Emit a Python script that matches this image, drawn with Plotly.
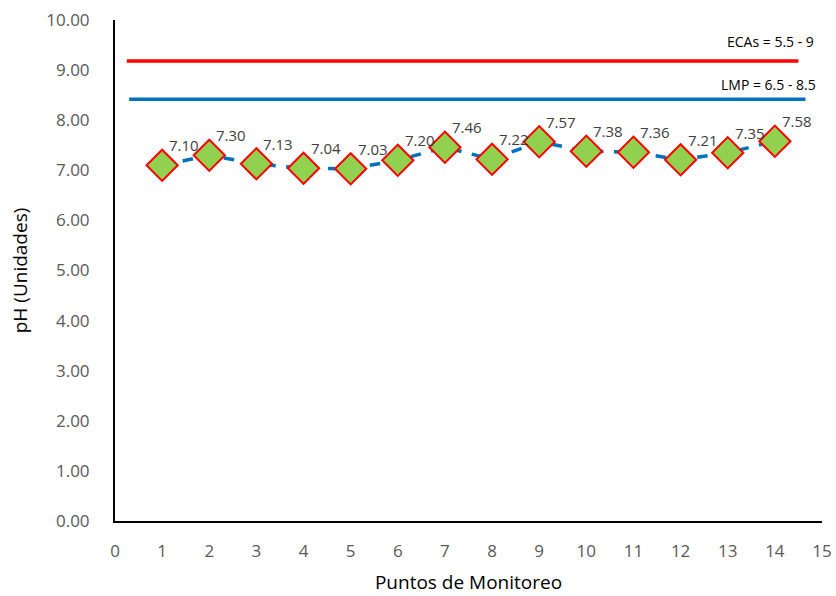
import plotly.graph_objects as go

puntos = list(range(1, 15))
ph = [7.10, 7.30, 7.13, 7.04, 7.03, 7.20, 7.46, 7.22, 7.57, 7.38, 7.36, 7.21, 7.35, 7.58]
eca_x = [0.25, 14.5]
eca_y = [9.18, 9.18]
lmp_x = [0.3, 14.65]
lmp_y = [8.42, 8.42]
x_ticks = list(range(0, 16))
y_ticks = [0, 1, 2, 3, 4, 5, 6, 7, 8, 9, 10]

fig = go.Figure()
fig.add_trace(go.Scatter(x=eca_x, y=eca_y, mode="lines",
                         line=dict(color="#FF0000", width=3.5), hoverinfo="skip"))
fig.add_trace(go.Scatter(x=lmp_x, y=lmp_y, mode="lines",
                         line=dict(color="#0070C0", width=3.5), hoverinfo="skip"))
fig.add_trace(go.Scatter(x=puntos, y=ph, mode="lines+markers",
                         line=dict(color="#0070C0", width=3.5, dash="dash"),
                         marker=dict(symbol="diamond", size=24, color="#92D050",
                                     line=dict(color="#FF0000", width=2))))

for xv, yv in zip(puntos, ph):
    fig.add_annotation(x=xv, y=yv, xref="x", yref="y", text=f"{yv:.2f}",
                       showarrow=False, xshift=22, yshift=20,
                       font=dict(size=15, color="#404040", family="Open Sans"))

fig.add_annotation(x=15, y=9.58, xref="x", yref="y", text="ECAs = 5.5 - 9",
                   showarrow=False, xanchor="right", xshift=-6,
                   font=dict(size=14, color="#000000", family="Open Sans"))
fig.add_annotation(x=15, y=8.72, xref="x", yref="y", text="LMP = 6.5 - 8.5",
                   showarrow=False, xanchor="right", xshift=-4,
                   font=dict(size=14, color="#000000", family="Open Sans"))

fig.update_layout(
    width=836, height=596, showlegend=False,
    plot_bgcolor="white", paper_bgcolor="white",
    margin=dict(l=115, r=14, t=20, b=75, autoexpand=False),
    font=dict(family="Open Sans"),
    xaxis=dict(range=[0, 15], tickvals=x_ticks, showline=True, linecolor="black",
               linewidth=2, showgrid=False, zeroline=False, ticks="",
               ticklabelstandoff=14, automargin=False, ticklabeloverflow="allow",
               tickfont=dict(size=17, color="#595959"),
               title=dict(text="Puntos de Monitoreo", font=dict(size=19, color="black"), standoff=14)),
    yaxis=dict(range=[0, 10], tickvals=y_ticks, tickformat=".2f", showline=True,
               linecolor="black", linewidth=2, showgrid=False, zeroline=False, ticks="",
               ticklabelstandoff=20, automargin=False,
               tickfont=dict(size=17, color="#595959"),
               title=dict(text="pH (Unidades)", font=dict(size=19, color="black"), standoff=14)),
)
fig.write_html("out.html")
